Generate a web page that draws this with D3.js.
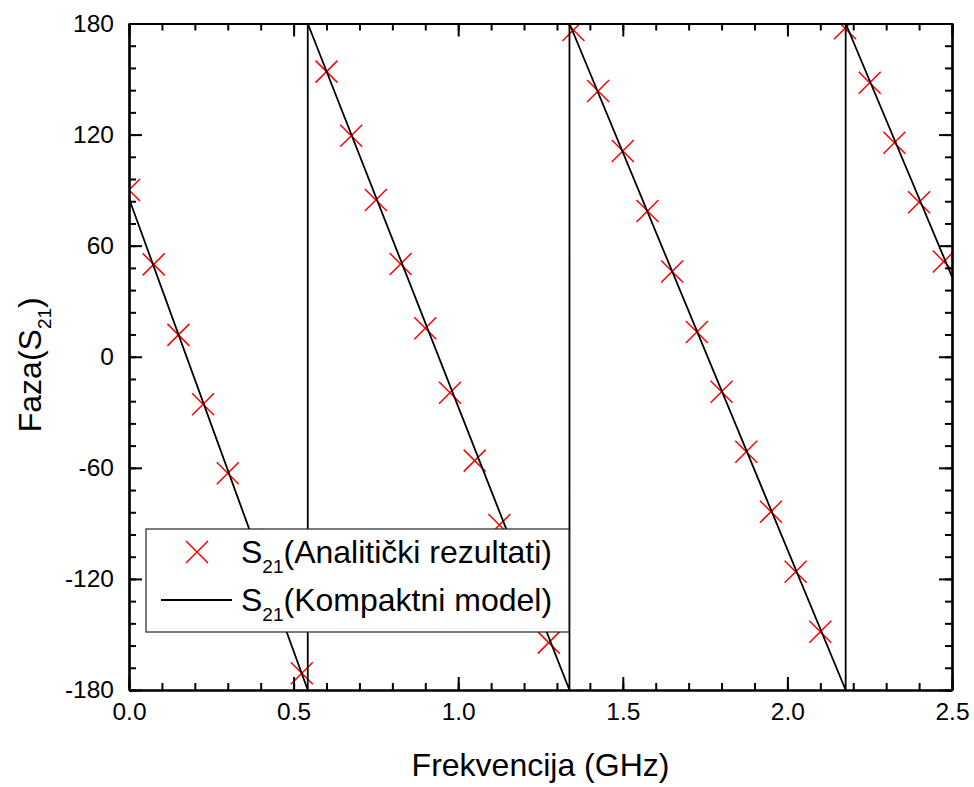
<!DOCTYPE html>
<html>
<head>
<meta charset="utf-8">
<script src="https://cdn.jsdelivr.net/npm/d3@7"></script>
<style>
  html, body { margin: 0; padding: 0; background: #fff; }
  svg { display: block; }
  text { font-family: "Liberation Sans", Arial, sans-serif; fill: #000; }
</style>
</head>
<body>
<svg id="chart" width="974" height="787"></svg>
<script>
// ---- data ----
const markerFreq = [0, 0.075, 0.15, 0.225, 0.3, 0.375, 0.45, 0.525, 0.6, 0.675, 0.75, 0.825, 0.9, 0.975,
  1.05, 1.125, 1.2, 1.275, 1.35, 1.425, 1.5, 1.575, 1.65, 1.725, 1.8, 1.875, 1.95, 2.025, 2.1,
  2.175, 2.25, 2.325, 2.4, 2.475];
const markerPhase = [90.1, 49.9, 11.8, -25.7, -62.9, -99, -135, -171, 154, 119.4, 84.7, 50.1, 15.4, -19.4,
  -56.1, -90.9, -123, -154.4, 176.5, 143.5, 111.1, 78.7, 46, 13.4, -18.9, -51.3, -83.7, -116.1, -148.5,
  177.4, 148, 115.6, 83.4, 51.4];

const lineFreq = [0, 0.543, 0.543, 1.338, 1.338, 2.177, 2.177, 2.5];
const linePhase = [85.5, -180, 180, -180, 180, -180, 180, 43.2];

const xMajorTicks = [0, 0.5, 1.0, 1.5, 2.0, 2.5];
const xTickLabels = ["0.0", "0.5", "1.0", "1.5", "2.0", "2.5"];
const yMajorTicks = [-180, -120, -60, 0, 60, 120, 180];
const yTickLabels = ["-180", "-120", "-60", "0", "60", "120", "180"];
const xMinorTicks = d3.range(0, 26).map(i => i / 10);
const yMinorTicks = d3.range(-180, 181, 12);

const seriesNames = ["(Analitički rezultati)", "(Kompaktni model)"];

// ---- layout ----
const svg = d3.select("#chart");
const L = 129, R = 952, T = 23.5, B = 690;
const x = d3.scaleLinear().domain([0, 2.5]).range([L, R]);
const y = d3.scaleLinear().domain([-180, 180]).range([B, T]);

svg.append("defs").append("clipPath").attr("id", "clip")
  .append("rect").attr("x", L).attr("y", T).attr("width", R - L).attr("height", B - T);

const plot = svg.append("g").attr("clip-path", "url(#clip)");

// markers
const S = 11;
const markers = markerFreq.map((f, i) => [f, markerPhase[i]]);
plot.append("g").selectAll("path").data(markers).enter().append("path")
  .attr("d", d => {
    const cx = x(d[0]), cy = y(d[1]);
    return `M${cx - S},${cy - S}L${cx + S},${cy + S}M${cx - S},${cy + S}L${cx + S},${cy - S}`;
  })
  .attr("stroke", "#ff0000").attr("stroke-width", 1.5).attr("fill", "none");

// line
const linePts = lineFreq.map((f, i) => [f, linePhase[i]]);
plot.append("path").datum(linePts)
  .attr("d", d3.line().x(d => x(d[0])).y(d => y(d[1])))
  .attr("fill", "none").attr("stroke", "#000").attr("stroke-width", 1.8);

// ---- axes ----
function styleAxis(g) {
  g.selectAll("path.domain").attr("stroke", "#000").attr("stroke-width", 2.2);
  g.selectAll(".tick line").attr("stroke", "#000").attr("stroke-width", 2);
  g.selectAll(".tick text").style("font-family", '"Liberation Sans", Arial, sans-serif')
    .style("font-size", "24.5px").attr("fill", "#000");
}
const MAJ = 13, MIN = 7;

// minor
svg.append("g").attr("transform", `translate(0,${B})`)
  .call(d3.axisBottom(x).tickValues(xMinorTicks).tickSizeInner(-MIN).tickSizeOuter(0).tickFormat(""))
  .call(styleAxis);
svg.append("g").attr("transform", `translate(0,${T})`)
  .call(d3.axisTop(x).tickValues(xMinorTicks).tickSizeInner(-MIN).tickSizeOuter(0).tickFormat(""))
  .call(styleAxis);
svg.append("g").attr("transform", `translate(${L},0)`)
  .call(d3.axisLeft(y).tickValues(yMinorTicks).tickSizeInner(-MIN).tickSizeOuter(0).tickFormat(""))
  .call(styleAxis);
svg.append("g").attr("transform", `translate(${R},0)`)
  .call(d3.axisRight(y).tickValues(yMinorTicks).tickSizeInner(-MIN).tickSizeOuter(0).tickFormat(""))
  .call(styleAxis);

// major
svg.append("g").attr("transform", `translate(0,${B})`)
  .call(d3.axisBottom(x).tickValues(xMajorTicks).tickSizeInner(-MAJ).tickSizeOuter(0)
    .tickPadding(13).tickFormat((d, i) => xTickLabels[i]))
  .call(styleAxis);
svg.append("g").attr("transform", `translate(0,${T})`)
  .call(d3.axisTop(x).tickValues(xMajorTicks).tickSizeInner(-MAJ).tickSizeOuter(0).tickFormat(""))
  .call(styleAxis);
svg.append("g").attr("transform", `translate(${L},0)`)
  .call(d3.axisLeft(y).tickValues(yMajorTicks).tickSizeInner(-MAJ).tickSizeOuter(0)
    .tickPadding(15).tickFormat((d, i) => yTickLabels[i]))
  .call(styleAxis);
svg.append("g").attr("transform", `translate(${R},0)`)
  .call(d3.axisRight(y).tickValues(yMajorTicks).tickSizeInner(-MAJ).tickSizeOuter(0).tickFormat(""))
  .call(styleAxis);

// ---- axis titles ----
svg.append("text").attr("x", (L + R) / 2).attr("y", 776).attr("text-anchor", "middle")
  .style("font-size", "32px").text("Frekvencija (GHz)");

const yt = svg.append("text").attr("transform", `translate(41,${(T + B) / 2 + 8}) rotate(-90)`)
  .attr("text-anchor", "middle").style("font-size", "32px");
yt.append("tspan").text("Faza(S");
yt.append("tspan").attr("dy", 10).style("font-size", "19px").text("21");
yt.append("tspan").attr("dy", -10).text(")");

// ---- legend ----
const lg = svg.append("g");
lg.append("rect").attr("x", 146).attr("y", 529).attr("width", 423).attr("height", 103)
  .attr("fill", "#fff").attr("stroke", "#222").attr("stroke-width", 1.2);
const mx = 197, my = 552;
lg.append("path")
  .attr("d", `M${mx - S},${my - S}L${mx + S},${my + S}M${mx - S},${my + S}L${mx + S},${my - S}`)
  .attr("stroke", "#ff0000").attr("stroke-width", 1.5).attr("fill", "none");
lg.append("line").attr("x1", 161).attr("x2", 232).attr("y1", 600).attr("y2", 600)
  .attr("stroke", "#000").attr("stroke-width", 1.8);

[563, 611].forEach((by, i) => {
  const t = lg.append("text").attr("x", 241).attr("y", by).style("font-size", "32px");
  t.append("tspan").text("S");
  t.append("tspan").attr("dy", 10).style("font-size", "19px").text("21");
  t.append("tspan").attr("dy", -10).text(seriesNames[i]);
});
</script>
</body>
</html>
